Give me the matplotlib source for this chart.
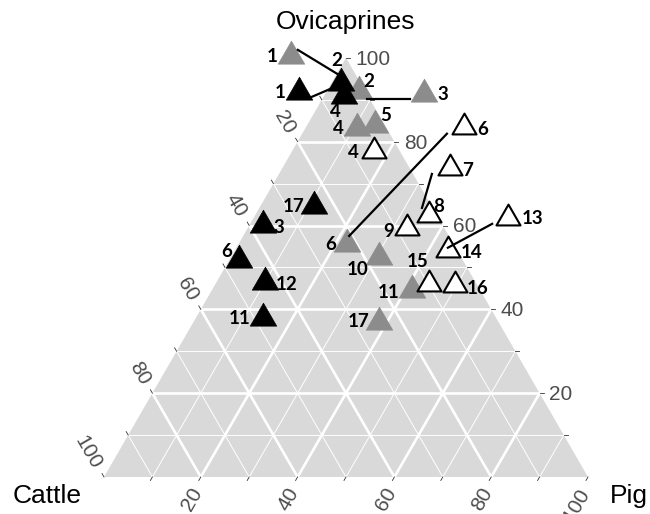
import numpy as np
import matplotlib
matplotlib.use("Agg")
import matplotlib.pyplot as plt
from matplotlib.path import Path

# composition (%) of each assemblage, by group
black_id = ["1", "2", "3", "4", "6", "11", "12", "17"]
black_cattle = [13.8, 4.1, 37.1, 5.0, 46.2, 48.3, 43.5, 24.2]
black_ovi = [91.9, 94.0, 60.1, 90.9, 51.8, 37.9, 46.5, 64.7]
black_pig = [-5.7, 1.9, 2.8, 4.1, 2.0, 13.8, 10.0, 11.1]

grey_id = ["1", "2", "3", "4", "5", "6", "10", "11", "17"]
grey_cattle = [11.2, 1.3, -11.9, 6.0, 2.0, 21.9, 16.9, 14.1, 24.6]
grey_ovi = [100.5, 92.1, 91.4, 83.3, 84.0, 55.6, 52.5, 44.6, 37.0]
grey_pig = [-11.7, 6.6, 20.5, 10.7, 14.0, 22.5, 30.6, 41.3, 38.4]

open_id = ["4", "6", "7", "8", "9", "13", "14", "15", "16"]
open_cattle = [5.4, -16.2, -8.3, 1.6, 7.8, -14.4, 1.9, 9.8, 4.6]
open_ovi = [77.8, 83.5, 73.7, 62.5, 59.4, 61.8, 54.2, 46.1, 45.8]
open_pig = [16.8, 32.7, 34.6, 35.9, 32.8, 52.6, 43.9, 44.1, 49.6]

# leader lines: (cattle, ovi, pig) start -> end
lead_start = [(9.0, 101.9, -10.9), (11.7, 90.7, -2.4), (0.6, 90.2, 9.2),
              (-11.8, 81.9, 29.9), (-3.9, 72.3, 31.6), (-10.4, 60.4, 50.0)]
lead_end = [(3.1, 95.5, 1.4), (4.4, 93.6, 2.0), (-8.3, 90.2, 18.1),
            (20.6, 57.5, 21.9), (2.2, 64.2, 33.6), (1.6, 54.7, 43.7)]

ticks = [10, 20, 30, 40, 50, 60, 70, 80, 90, 100]

# label offsets in pixels (dx right, dy down)
black_off = [(-19, 1), (-4, -22), (16, 2), (-8, 16), (-12, -8), (-23, 0), (22, 2), (-21, 1)]
grey_off = [(-18, 1), (10, -9), (18, 1), (-19, 1), (11, -9), (-17, 1), (-22, 13), (-23, 2), (-21, 0)]
open_off = [(-20, 2), (18, 2), (18, 2), (10, -9), (-18, 3), (24, 1), (24, 3), (-11, -22), (23, 3)]

H = np.sqrt(3) / 2


def tern(c, o, p):
    c, o, p = np.asarray(c, float), np.asarray(o, float), np.asarray(p, float)
    s = c + o + p
    return (p + o / 2) / s, o / s * H


fig = plt.figure(figsize=(6.5, 5.14), dpi=100)
ax = fig.add_axes([0, 0, 1, 1])
ax.set_xlim(-104 / 484, 546 / 484)
ax.set_ylim(-37 / 484, 477 / 484)
ax.axis("off")

ax.fill([0, 1, 0.5], [0, 0, H], color="#d9d9d9", zorder=0, lw=0)

# grid lines for the three axes
for v in range(10, 100, 10):
    f = v / 100
    lw = 1.9 if v % 20 == 0 else 0.7
    for a, b in [((1 - f, f, 0), (0, f, 1 - f)),
                 ((1 - f, 0, f), (0, 1 - f, f)),
                 ((f, 0, 1 - f), (f, 1 - f, 0))]:
        x, y = tern([a[0], b[0]], [a[1], b[1]], [a[2], b[2]])
        ax.plot(x, y, color="white", lw=lw, zorder=1, solid_capstyle="butt")

tl = 4 / 484
tcol = "#4d4d4d"
lab_kw = dict(color=tcol, fontsize=15, family="Liberation Sans")
for v in ticks:
    f = v / 100
    # right edge (Ovicaprines)
    x, y = tern(0, f, 1 - f)
    ax.plot([x, x + tl], [y, y], color="#333333", lw=0.6, zorder=2)
    # left edge (Cattle)
    xc, yc = tern(f, 1 - f, 0)
    ax.plot([xc, xc - tl * 0.5], [yc, yc + tl * H], color="#333333", lw=0.6, zorder=2)
    # bottom edge (Pig)
    xp, yp = tern(1 - f, 0, f)
    ax.plot([xp, xp - tl * 0.5], [yp, yp - tl * H], color="#333333", lw=0.6, zorder=2)
    if v % 20 == 0:
        s = str(v)
        ax.annotate(s, (x, y), xytext=(7, -1), textcoords="offset points",
                    ha="left", va="center", **lab_kw)
        ax.annotate(s, (xc, yc), xytext=(-5, 7), textcoords="offset points",
                    ha="right", va="center", rotation=-60,
                    rotation_mode="anchor", **lab_kw)
        ax.annotate(s, (xp, yp), xytext=(-2, -9), textcoords="offset points",
                    ha="right", va="center", rotation=60,
                    rotation_mode="anchor", **lab_kw)

title_kw = dict(fontsize=19, family="Liberation Sans", color="black")
fig.text(346 / 650, 1 - 22 / 514, "Ovicaprines", ha="center", va="center", **title_kw)
fig.text(47 / 650, 1 - 496 / 514, "Cattle", ha="center", va="center", **title_kw)
fig.text(610 / 650, 1 - 496 / 514, "Pig", ha="left", va="center", **title_kw)

# equilateral triangle marker
tri = Path([(0, 1), (-0.866, -0.5), (0.866, -0.5), (0, 1)],
           [Path.MOVETO, Path.LINETO, Path.LINETO, Path.CLOSEPOLY])

xg, yg = tern(grey_cattle, grey_ovi, grey_pig)
ax.plot(xg, yg, ls="none", marker=tri, ms=22, mfc="#8c8c8c", mec="#8c8c8c",
        mew=0.5, zorder=3)
xo, yo = tern(open_cattle, open_ovi, open_pig)
ax.plot(xo, yo, ls="none", marker=tri, ms=20, mfc="white", mec="black",
        mew=1.5, zorder=3)
xb, yb = tern(black_cattle, black_ovi, black_pig)
ax.plot(xb, yb, ls="none", marker=tri, ms=22, mfc="black", mec="black",
        mew=0.5, zorder=4)

for a, b in zip(lead_start, lead_end):
    x, y = tern([a[0], b[0]], [a[1], b[1]], [a[2], b[2]])
    ax.plot(x, y, color="black", lw=1.6, zorder=5)

num_kw = dict(fontsize=13.5, family="Lato", fontweight="bold", color="black",
              ha="center", va="center", textcoords="offset points", zorder=6)
for ids, xs, ys, offs in [(black_id, xb, yb, black_off),
                          (grey_id, xg, yg, grey_off),
                          (open_id, xo, yo, open_off)]:
    for s, x, y, (dx, dy) in zip(ids, xs, ys, offs):
        ax.annotate(s, (x, y), xytext=(dx * 0.72, -dy * 0.72), **num_kw)

fig.savefig("out.png", dpi=100)
